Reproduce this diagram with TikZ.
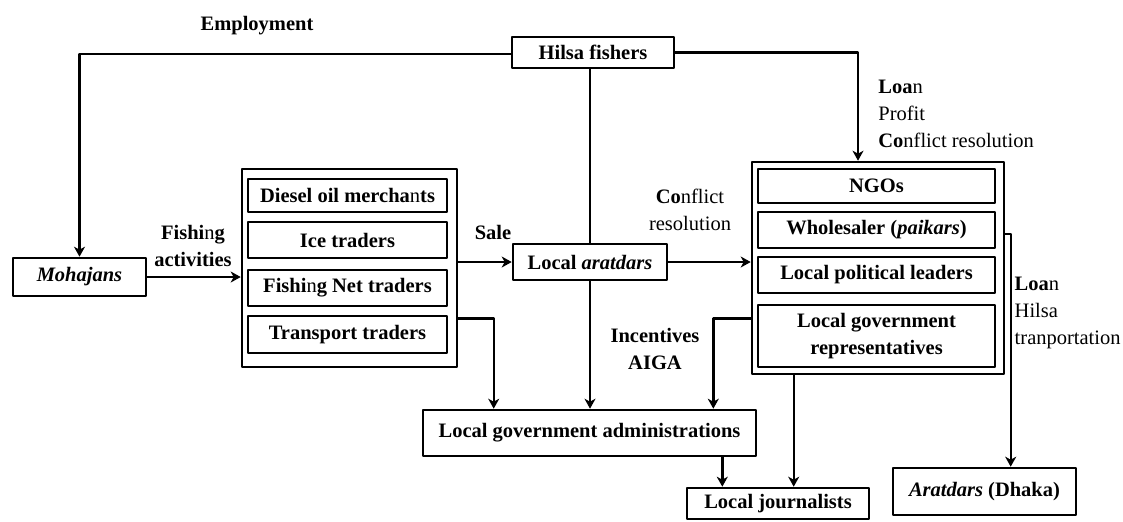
\documentclass[tikz,border=0pt]{standalone}
\usepackage{fontspec}
\setmainfont{Liberation Serif}
\usetikzlibrary{arrows.meta,calc}

\begin{document}
\begin{tikzpicture}[x=0.5pt, y=-0.5pt, line join=round, >={Stealth[length=5pt,width=5.5pt,inset=1.5pt]},
  font=\fontsize{10.25}{13.5}\selectfont,
  box/.style={draw, line width=1.3pt, inner sep=0pt, align=center, font=\fontsize{10.25}{13.5}\selectfont\bfseries},
  flow/.style={->, line width=1.2pt},
  link/.style={line width=1.2pt},
  lab/.style={inner sep=0pt, align=center}]
\useasboundingbox (0,0) rectangle (1123,521);
% --- Hilsa fishers and Mohajans ---
\node[box, minimum width=81pt, minimum height=15.5pt] (hilsa) at (593,52.5) {Hilsa fishers};
\node[box, minimum width=66.5pt, minimum height=19pt] (mohajans) at (79.5,277) {\textit{Mohajans}};
% --- Traders group ---
\node[box, minimum width=107.5pt, minimum height=99pt] (traders) at (349.5,268) {};
\node[box, minimum width=99.5pt, minimum height=16.5pt] (diesel) at (347.5,195.5) {Diesel oil mercha{\mdseries n}ts};
\node[box, minimum width=99.5pt, minimum height=18pt] (ice) at (347.5,240) {Ice traders};
\node[box, minimum width=99.5pt, minimum height=18pt] (net) at (347.5,288) {Fishi{\mdseries n}g Net traders};
\node[box, minimum width=99.5pt, minimum height=18.5pt] (transport) at (347.5,334.5) {Transport traders};
% --- Local aratdars ---
\node[box, minimum width=77pt, minimum height=18pt] (aratdars) at (590,262) {Local \textit{aratdars}};
% --- NGOs group ---
\node[box, minimum width=126pt, minimum height=106pt] (group) at (878,268) {};
\node[box, minimum width=118.5pt, minimum height=17pt] (ngos) at (876.5,186) {NGOs};
\node[box, minimum width=118.5pt, minimum height=18pt] (wholesaler) at (876.5,230) {Wholesaler (\textit{paikars})};
\node[box, minimum width=118.5pt, minimum height=18pt] (political) at (876.5,275) {Local political leaders};
\node[box, minimum width=118.5pt, minimum height=31pt] (govrep) at (876.5,336) {Local government\\representatives};
% --- Bottom row ---
\node[box, minimum width=166.5pt, minimum height=23pt] (admin) at (589.5,433) {Local government administrations};
\node[box, minimum width=91pt, minimum height=15.5pt] (journalists) at (778,503.5) {Local journalists};
\node[box, minimum width=91.5pt, minimum height=23.5pt] (dhaka) at (984.5,491.5) {\textit{Aratdars} (Dhaka)};

% --- Connector ends ---
\coordinate (ngostop) at ($(group.north)+(-20,0)$);
\coordinate (tradersout) at ($(traders.south east)+(0,-50)$);
\coordinate (admintop1) at ($(admin.north west)+(72,0)$);
\coordinate (groupout) at ($(group.south west)+(0,-57)$);
\coordinate (admintop2) at ($(admin.north east)+(-44,0)$);
\coordinate (groupbottom) at ($(group.south west)+(43,0)$);
\coordinate (adminbottom) at ($(admin.south east)+(-35,0)$);
\coordinate (groupright) at ($(group.north east)+(0,73)$);
\coordinate (dhakatop) at ($(dhaka.north west)+(119,0)$);

% --- Connectors ---
\draw[flow] (hilsa.west |- 0,54) -| (mohajans.north);
\draw[flow] (mohajans.east) -- (mohajans.east -| traders.west);
\draw[flow] (traders.east |- aratdars.west) -- (aratdars.west);
\draw[flow] (aratdars.east) -- (aratdars.east -| group.west);
\draw[flow] (hilsa.east) -| (ngostop);
\draw[link] (hilsa.south -| aratdars.north) -- (aratdars.north);
\draw[flow] (aratdars.south) -- (aratdars.south |- admin.north);
\draw[flow] (tradersout) -| (admintop1);
\draw[flow] (groupout) -| (admintop2);
\draw[flow] (groupbottom) -- (groupbottom |- journalists.north);
\draw[flow] (adminbottom) -- (adminbottom |- journalists.north);
\draw[flow] (groupright) -| (dhakatop);

% --- Labels ---
\node[lab, font=\fontsize{10.25}{13.5}\selectfont\bfseries] (employment) at (257,26) {Employment};
\node[lab, font=\fontsize{10.25}{13.5}\selectfont\bfseries] (fishing) at (193,245.5) {Fishi{\mdseries n}g\\activities};
\node[lab, font=\fontsize{10.25}{13.5}\selectfont\bfseries] (sale) at (493,232) {Sale};
\node[lab] (conflict) at (690,210) {\textbf{Co}nflict\\resolution};
\node[lab, align=left, anchor=west] (loanprofit) at (878,114) {\textbf{Loa}n\\Profit\\\textbf{Co}nflict resolution};
\node[lab, font=\fontsize{10.25}{13.5}\selectfont\bfseries] (incentives) at (655,348.5) {Incentives\\AIGA};
\node[lab, align=left, anchor=east] (loanhilsa) at (1121,312.5) {\textbf{Loa}n\\Hilsa\\tranportation};
\end{tikzpicture}
\end{document}
